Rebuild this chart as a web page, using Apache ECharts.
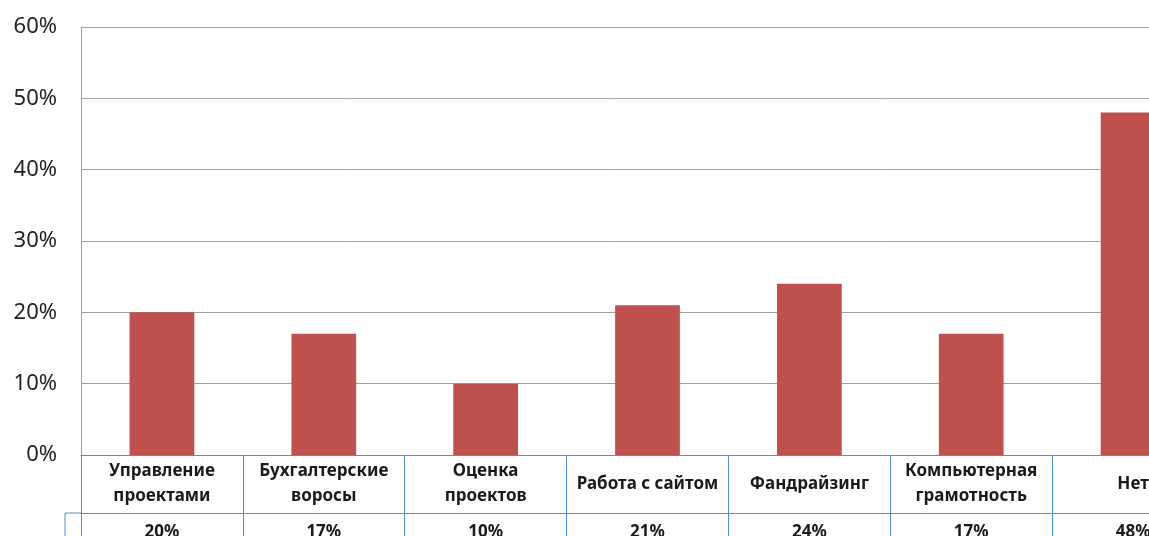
<!DOCTYPE html>
<html>
<head>
<meta charset="utf-8">
<script src="https://cdn.jsdelivr.net/npm/echarts@6/dist/echarts.min.js"></script>
<style>
  html, body { margin: 0; padding: 0; background: #fff; }
  #chart { width: 1149px; height: 536px; }
</style>
</head>
<body>
<div id="chart"></div>
<script>
const categories = [
  "Управление\nпроектами",
  "Бухгалтерские\nворосы",
  "Оценка\nпроектов",
  "Работа с сайтом",
  "Фандрайзинг",
  "Компьютерная\nграмотность",
  "Нет"
];
const values = [20, 17, 10, 21, 24, 17, 48];
const yTicks = [0, 10, 20, 30, 40, 50, 60];

const FONT = "Noto Sans";
const BLUE = "#4a90d6";
const GREY = "#a0a0a0";

const chart = echarts.init(document.getElementById("chart"));
const option = {
  animation: false,
  grid: [
    { left: 81, top: 27, width: 1133, height: 428, outerBoundsMode: "none" },
    { left: 81, top: 513, width: 1133, height: 40, outerBoundsMode: "none" }
  ],
  xAxis: [
    {
      gridIndex: 0,
      type: "category",
      data: categories,
      axisLine: { lineStyle: { color: BLUE, width: 1 } },
      axisTick: { show: true, length: 58, lineStyle: { color: BLUE } },
      axisLabel: {
        interval: 0,
        margin: 29,
        verticalAlign: "middle",
        lineHeight: 25,
        fontFamily: FONT,
        fontSize: 17,
        fontWeight: "bold",
        color: "#1a1a1a"
      }
    },
    {
      gridIndex: 1,
      type: "category",
      position: "top",
      data: values.map(v => v + "%"),
      axisLine: { onZero: false, lineStyle: { color: BLUE, width: 1 } },
      axisTick: { show: true, inside: true, length: 40, lineStyle: { color: BLUE } },
      axisLabel: {
        interval: 0,
        inside: true,
        margin: 11,
        fontFamily: FONT,
        fontSize: 17,
        fontWeight: "bold",
        color: "#1a1a1a"
      }
    }
  ],
  yAxis: [
    {
      gridIndex: 0,
      type: "value",
      min: yTicks[0],
      max: yTicks[yTicks.length - 1],
      interval: 10,
      axisLine: { show: true, lineStyle: { color: GREY } },
      axisTick: { show: false },
      splitLine: { lineStyle: { color: GREY } },
      axisLabel: {
        formatter: "{value}%",
        margin: 24,
        fontFamily: FONT,
        fontSize: 22,
        color: "#222"
      }
    },
    {
      gridIndex: 1,
      type: "value",
      show: false
    }
  ],
  graphic: [
    {
      type: "polyline",
      shape: { points: [[65, 540], [65, 513], [81, 513]] },
      style: { stroke: BLUE, lineWidth: 1, fill: null }
    }
  ],
  series: [
    {
      type: "bar",
      xAxisIndex: 0,
      yAxisIndex: 0,
      data: values,
      barWidth: "40%",
      itemStyle: { color: "#c0504d" }
    }
  ]
};
chart.setOption(option);
</script>
</body>
</html>
